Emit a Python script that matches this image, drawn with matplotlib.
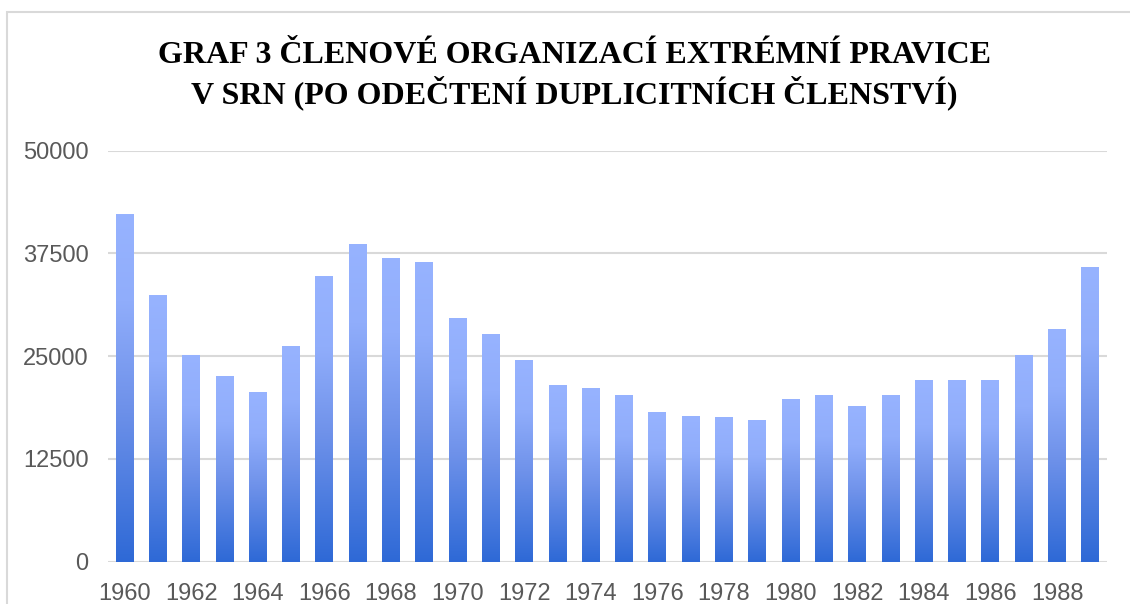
import numpy as np
import matplotlib
matplotlib.use('Agg')
import matplotlib.pyplot as plt
from matplotlib.colors import LinearSegmentedColormap
from matplotlib.patches import Rectangle

# data
years = list(range(1960, 1990))
members = [42300, 32400, 25200, 22600, 20600, 26200, 34700, 38700, 37000, 36500,
           29600, 27700, 24500, 21500, 21100, 20250, 18200, 17700, 17600, 17200,
           19800, 20250, 18900, 20250, 22100, 22100, 22100, 25100, 28300, 35900]
y_ticks = [0, 12500, 25000, 37500, 50000]
x_tick_labels = [str(y) for y in years[::2]]

title_1 = 'GRAF 3 ČLENOVÉ ORGANIZACÍ EXTRÉMNÍ PRAVICE'
title_2 = 'V SRN (PO ODEČTENÍ DUPLICITNÍCH ČLENSTVÍ)'

fig = plt.figure(figsize=(11.3, 6.04), dpi=100)
fig.patch.set_facecolor('white')

# outer chart frame (only top and left visible in the crop)
fig.add_artist(Rectangle((7 / 1130, -0.1), 1.2, (604 - 12) / 604 + 0.1,
                         transform=fig.transFigure, fill=False,
                         edgecolor='#D9D9D9', linewidth=1.5))

ax = fig.add_axes([108 / 1130, 42.3 / 604, 999 / 1130, 411 / 604])

x = np.arange(len(years))
bars = ax.bar(x, members, width=0.54, color='none', edgecolor='none', zorder=3)

# vertical gradient inside every bar, light on top, dark at the bottom
cmap = LinearSegmentedColormap.from_list(
    'bar_grad', [(0.0, '#2E69D6'), (0.45, '#6F92EA'), (0.75, '#90ADFB'), (1.0, '#97B3FF')])
grad = np.linspace(0, 1, 256).reshape(-1, 1)
for b in bars:
    x0, w, h = b.get_x(), b.get_width(), b.get_height()
    im = ax.imshow(grad, cmap=cmap, origin='lower', aspect='auto',
                   extent=[x0, x0 + w, 0, h], zorder=3, interpolation='bilinear')
    im.set_clip_path(b)

ax.set_xlim(-0.5, len(years) - 0.5)
ax.set_ylim(0, 50000)
ax.set_yticks(y_ticks)
ax.set_yticklabels([str(v) for v in y_ticks])
ax.set_xticks(x[::2])
ax.set_xticklabels(x_tick_labels)

ax.yaxis.grid(True, color='#D9D9D9', linewidth=1.5, zorder=0)
ax.set_axisbelow(True)
for s in ax.spines.values():
    s.set_visible(False)

ax.tick_params(axis='both', length=0, labelsize=17, colors='#595959')
ax.tick_params(axis='y', pad=14)
ax.tick_params(axis='x', pad=15)
for lbl in ax.get_xticklabels() + ax.get_yticklabels():
    lbl.set_family('Liberation Sans')

fig.text(0.508, (604 - 63) / 604, title_1, ha='center', va='baseline',
         fontsize=23, fontweight='bold', family='Liberation Serif', color='black')
fig.text(0.508, (604 - 103) / 604, title_2, ha='center', va='baseline',
         fontsize=23, fontweight='bold', family='Liberation Serif', color='black')

fig.savefig('out.png', dpi=100, facecolor='white')
